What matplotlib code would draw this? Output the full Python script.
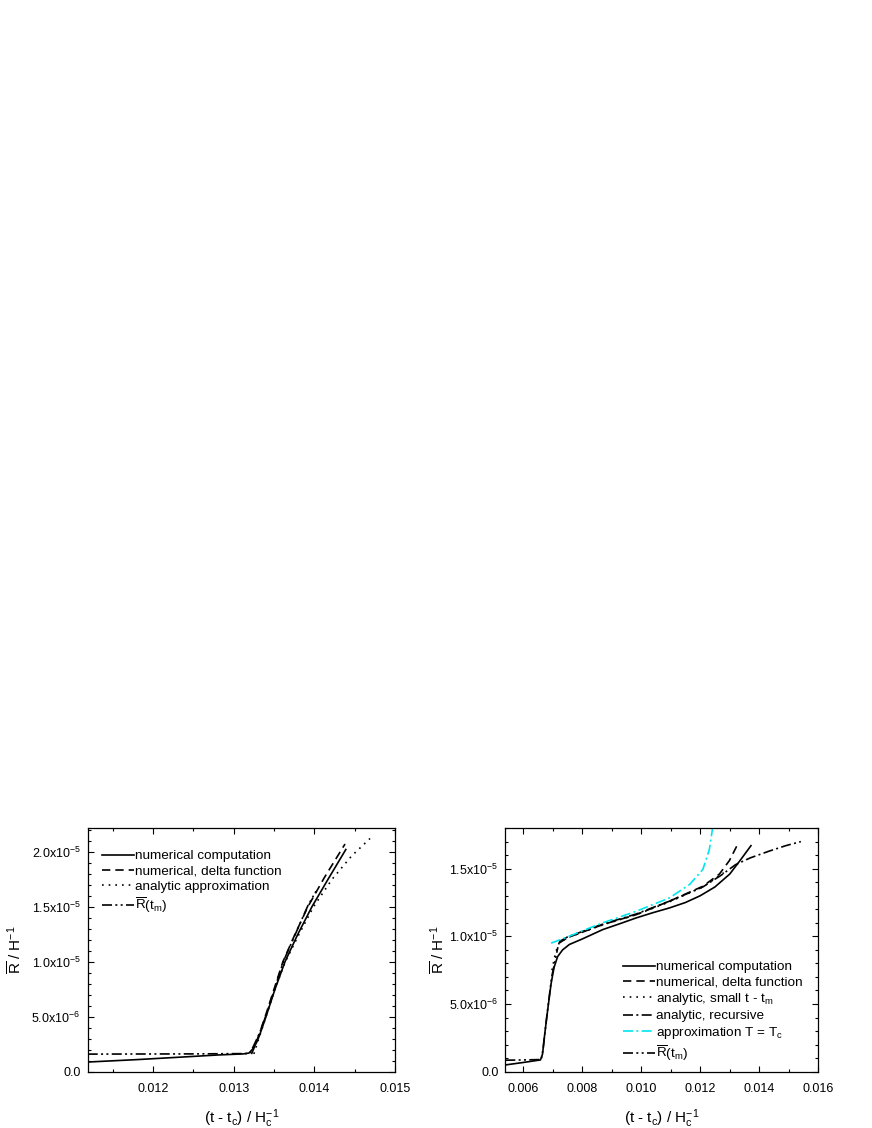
import numpy as np
import matplotlib
matplotlib.use("Agg")
import matplotlib.pyplot as plt
from matplotlib.ticker import MultipleLocator, FuncFormatter

plt.rcParams['font.family'] = ['Liberation Sans', 'DejaVu Sans']
plt.rcParams['mathtext.fontset'] = 'custom'
plt.rcParams['mathtext.rm'] = 'Liberation Sans'
plt.rcParams['mathtext.it'] = 'Liberation Sans:italic'

# ---- left panel data (x in H_c^-1, y in units of 1e-6 H^-1)
l_num_x = [0.01119, 0.0118, 0.0124, 0.0128, 0.01312, 0.01319, 0.01324, 0.01328, 0.01332, 0.01340,
           0.013512, 0.013636, 0.013795, 0.01397, 0.01417, 0.01439]
l_num_y = [0.88, 1.10, 1.35, 1.52, 1.62, 1.70, 2.10, 2.60, 3.30, 5.0, 7.5, 10.0, 12.5, 15.0, 17.5, 20.2]
l_delta_x = [0.01322, 0.01326, 0.01332, 0.01339, 0.01350, 0.01361, 0.01376, 0.01392, 0.01412, 0.01438]
l_delta_y = [1.60, 2.30, 3.50, 5.0, 7.5, 10.0, 12.5, 15.0, 17.6, 20.7]
l_ana_x = [0.01325, 0.01331, 0.01340, 0.01351, 0.01364, 0.01381, 0.01399, 0.01422, 0.01446, 0.01469]
l_ana_y = [1.62, 3.0, 5.0, 7.5, 10.0, 12.5, 15.0, 17.5, 19.6, 21.2]
l_rtm_x = [0.01119, 0.0125, 0.01320, 0.01325, 0.01332, 0.01340, 0.01351, 0.01362, 0.01377, 0.01392, 0.01402]
l_rtm_y = [1.60, 1.62, 1.65, 2.40, 3.50, 5.1, 7.6, 10.1, 12.6, 15.1, 16.4]

# ---- right panel data
r_num_x = [0.0054, 0.0060, 0.00659, 0.00666, 0.00672, 0.00678, 0.00686, 0.00695, 0.00705, 0.00717,
           0.00734, 0.00757, 0.0080, 0.0087, 0.0093, 0.00983, 0.0104, 0.01096, 0.0115, 0.0120,
           0.0125, 0.0130, 0.01335, 0.01372]
r_num_y = [0.50, 0.68, 0.87, 1.3, 2.5, 3.6, 5.0, 6.5, 7.7, 8.5, 9.0, 9.4, 9.8, 10.5, 10.95, 11.36,
           11.75, 12.1, 12.5, 13.0, 13.65, 14.6, 15.6, 16.7]
r_delta_x = [0.00722, 0.0075, 0.0080, 0.0087, 0.00983, 0.01096, 0.01209, 0.01265, 0.01299, 0.01327]
r_delta_y = [9.5, 9.9, 10.3, 10.87, 11.6, 12.6, 13.7, 14.6, 15.6, 16.8]
r_small_x = [0.00698, 0.00710, 0.00722, 0.0075, 0.0080, 0.0087, 0.00983, 0.01096, 0.01209, 0.0128]
r_small_y = [7.5, 8.8, 9.5, 9.9, 10.3, 10.85, 11.6, 12.55, 13.65, 14.7]
r_rec_x = [0.00722, 0.0075, 0.0080, 0.0087, 0.00983, 0.01096, 0.01209, 0.0127, 0.0132, 0.0137,
           0.01434, 0.01490, 0.01541]
r_rec_y = [9.6, 9.95, 10.35, 10.9, 11.65, 12.6, 13.65, 14.5, 15.3, 15.8, 16.3, 16.7, 17.0]
r_tc_x = [0.00695, 0.0075, 0.0080, 0.0087, 0.00983, 0.01096, 0.01164, 0.01209, 0.01231, 0.01243]
r_tc_y = [9.5, 9.95, 10.4, 11.0, 11.85, 12.84, 13.83, 14.94, 16.42, 18.15]
r_rtm_x = [0.0054, 0.0060, 0.00662, 0.00668, 0.00680, 0.00697, 0.00718]
r_rtm_y = [0.85, 0.87, 0.90, 1.7, 4.0, 7.0, 9.2]

left_labels = ['numerical computation', 'numerical, delta function',
               'analytic approximation', r'$\overline{\mathrm{R}}$(t$_{\mathrm{m}}$)']
right_labels = ['numerical computation', 'numerical, delta function',
                r'analytic, small t - t$_{\mathrm{m}}$', 'analytic, recursive',
                r'approximation T = T$_{\mathrm{c}}$', r'$\overline{\mathrm{R}}$(t$_{\mathrm{m}}$)']

DASH = (0, (5, 3))
DOT = (0, (1, 3))
DASHDOT = (0, (6, 2, 1.2, 2))
DASHDOTDOT = (0, (6, 2, 1.2, 2, 1.2, 2))
LW = 1.2


def yfmt(v, pos):
    if abs(v) < 1e-12:
        return '0.0'
    e = int(np.floor(np.log10(abs(v))))
    m = v / 10 ** e
    return r'%.1fx10$^{\mathrm{%d}}$' % (m, e)


def style_axes(ax, ylab_x):
    ax.tick_params(which='both', direction='in', top=True, right=True, labelsize=9)
    ax.tick_params(axis='x', which='major', pad=8)
    ax.tick_params(axis='y', which='major', pad=5)
    ax.tick_params(which='major', length=4, width=0.8)
    ax.tick_params(which='minor', length=2.5, width=0.8)
    for s in ax.spines.values():
        s.set_linewidth(0.9)
    ax.yaxis.set_major_locator(MultipleLocator(5e-6))
    ax.yaxis.set_minor_locator(MultipleLocator(1e-6))
    ax.yaxis.set_major_formatter(FuncFormatter(yfmt))
    ax.set_xlabel(r'(t - t$_{\mathrm{c}}$) / H$_{\mathrm{c}}^{\mathrm{-1}}$', fontsize=11, labelpad=9)
    ax.set_ylabel(r'$\overline{\mathrm{R}}$ / H$^{\mathrm{-1}}$', fontsize=11)
    ax.yaxis.set_label_coords(ylab_x, 0.5)


fig = plt.figure(figsize=(8.72, 11.28), dpi=100)
ax1 = fig.add_axes([0.1006, 0.0499, 0.3524, 0.2160])
ax2 = fig.add_axes([0.5795, 0.0499, 0.3589, 0.2160])

s = 1e-6
ax1.plot(l_num_x, np.array(l_num_y) * s, color='black', lw=LW, label=left_labels[0])
ax1.plot(l_delta_x, np.array(l_delta_y) * s, color='black', lw=LW, linestyle=DASH, label=left_labels[1])
ax1.plot(l_ana_x, np.array(l_ana_y) * s, color='black', lw=LW, linestyle=DOT, label=left_labels[2])
ax1.plot(l_rtm_x, np.array(l_rtm_y) * s, color='black', lw=LW, linestyle=DASHDOTDOT, label=left_labels[3])
ax1.set_xlim(0.01119, 0.015)
ax1.set_ylim(0, 2.215e-5)
ax1.xaxis.set_major_locator(MultipleLocator(0.001))
ax1.xaxis.set_minor_locator(MultipleLocator(0.0005))
ax1.xaxis.set_major_formatter(FuncFormatter(lambda v, p: '%.3f' % v))
style_axes(ax1, -0.205)
ax1.legend(loc='upper left', bbox_to_anchor=(0.045, 0.91), frameon=False, fontsize=9.7,
           handlelength=2.4, handletextpad=0.1, borderpad=0, borderaxespad=0, labelspacing=0.2)

ax2.plot(r_num_x, np.array(r_num_y) * s, color='black', lw=LW, label=right_labels[0])
ax2.plot(r_delta_x, np.array(r_delta_y) * s, color='black', lw=LW, linestyle=DASH, label=right_labels[1])
ax2.plot(r_small_x, np.array(r_small_y) * s, color='black', lw=LW, linestyle=DOT, label=right_labels[2])
ax2.plot(r_rec_x, np.array(r_rec_y) * s, color='black', lw=LW, linestyle=DASHDOT, label=right_labels[3])
ax2.plot(r_tc_x, np.array(r_tc_y) * s, color='#00e5ee', lw=LW, linestyle=DASHDOT, label=right_labels[4])
ax2.plot(r_rtm_x, np.array(r_rtm_y) * s, color='black', lw=LW, linestyle=DASHDOTDOT, label=right_labels[5])
ax2.set_xlim(0.0054, 0.016)
ax2.set_ylim(0, 1.8e-5)
ax2.xaxis.set_major_locator(MultipleLocator(0.002))
ax2.xaxis.set_minor_locator(MultipleLocator(0.001))
ax2.xaxis.set_major_formatter(FuncFormatter(lambda v, p: '%.3f' % v))
style_axes(ax2, -0.183)
ax2.legend(loc='upper left', bbox_to_anchor=(0.375, 0.455), frameon=False, fontsize=9.7,
           handlelength=2.4, handletextpad=0.1, borderpad=0, borderaxespad=0, labelspacing=0.2)

fig.savefig('out.png', dpi=100)
